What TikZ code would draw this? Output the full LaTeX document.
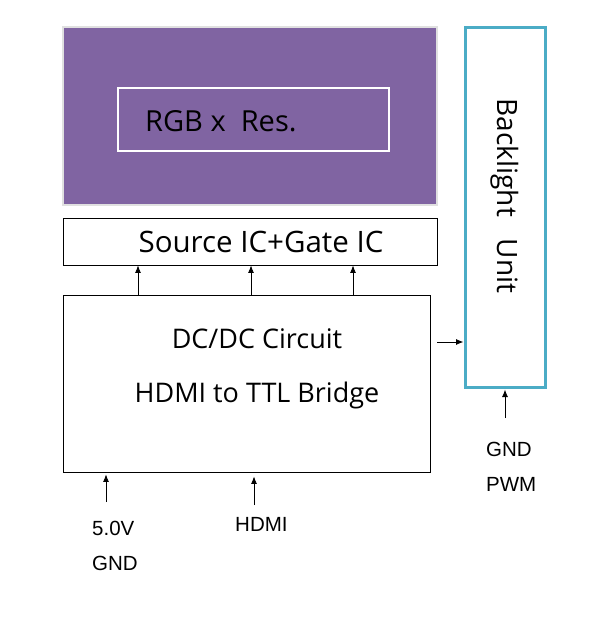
\documentclass[tikz,border=0pt]{standalone}
\usepackage{fontspec}
\setmainfont{Open Sans}
\newfontfamily\lblfont{Liberation Sans}
\usetikzlibrary{arrows.meta}

\definecolor{panelpurple}{HTML}{8064A2}
\definecolor{bluteal}{HTML}{4BACC6}

\tikzstyle{blok}=[draw, line width=0.8pt, inner sep=0pt]
\tikzstyle{sig}=[>={Latex[length=7.5pt,width=6pt]}, ->, line width=0.9pt]
\tikzstyle{lbl}=[font=\lblfont\fontsize{20.5}{35}\selectfont, align=left, anchor=west, inner sep=0pt]

\begin{document}
\begin{tikzpicture}[x=1pt, y=-1pt]
            \useasboundingbox (0,0) rectangle (590,630);

            % Panel
            \node[fill=panelpurple, draw=black!12, line width=2pt, minimum width=374pt, minimum height=178pt, inner sep=0pt] (panel) at (250,116) {};
            \node[draw=white, line width=2.5pt, minimum width=271pt, minimum height=63pt, inner sep=0pt] (res) at (253.5,119.5) {};
            \node[font=\fontsize{29}{32}\selectfont, anchor=west, inner sep=0pt] (restext) at (145,121) {RGB x\ \ Res.};

            % Bloky
            \node[blok, minimum width=374pt, minimum height=47pt] (srcic) at (250,241.5) {};
            \node[font=\fontsize{29.5}{32}\selectfont] (srctext) at (261,242) {Source IC+Gate IC};
            \node[blok, minimum width=367pt, minimum height=177pt] (bridge) at (246.5,383.5) {};
            \node[font=\fontsize{27}{54}\selectfont, align=center] (bridgetxt) at (257,369) {DC/DC Circuit\\HDMI to TTL Bridge};
            \node[draw=bluteal, line width=3pt, minimum width=80pt, minimum height=360pt, inner sep=0pt] (blu) at (505,207) {};
            \node[rotate=-90, font=\fontsize{28}{32}\selectfont] (blutext) at (505,196) {Backlight\ \ \ Unit};

            % Signaly mezi bloky
            \draw[sig] (bridge.north -| 138,0) -- (srcic.south -| 138,0);
            \draw[sig] (bridge.north -| 251,0) -- (srcic.south -| 251,0);
            \draw[sig] (bridge.north -| 353,0) -- (srcic.south -| 353,0);
            \coordinate (blin) at (437,342);
            \draw[sig] (blin) -- (blu.west |- blin);

            % Vstupy
            \coordinate (pwr) at (106,502);
            \coordinate (hdmi) at (254,505);
            \coordinate (pwm) at (505,418);
            \draw[sig, shorten >=2pt] (pwr) -- (pwr |- bridge.south);
            \draw[sig, shorten >=4pt] (hdmi) -- (hdmi |- bridge.south);
            \draw[sig, shorten >=1pt] (pwm) -- (pwm |- blu.south);
            \node[lbl] (pwrtext) at (92,545.5) {5.0V\\GND};
            \node[lbl] (hdmitext) at (235,524) {HDMI};
            \node[lbl] (pwmtext) at (486,466.5) {GND\\PWM};
        \end{tikzpicture}
\end{document}
